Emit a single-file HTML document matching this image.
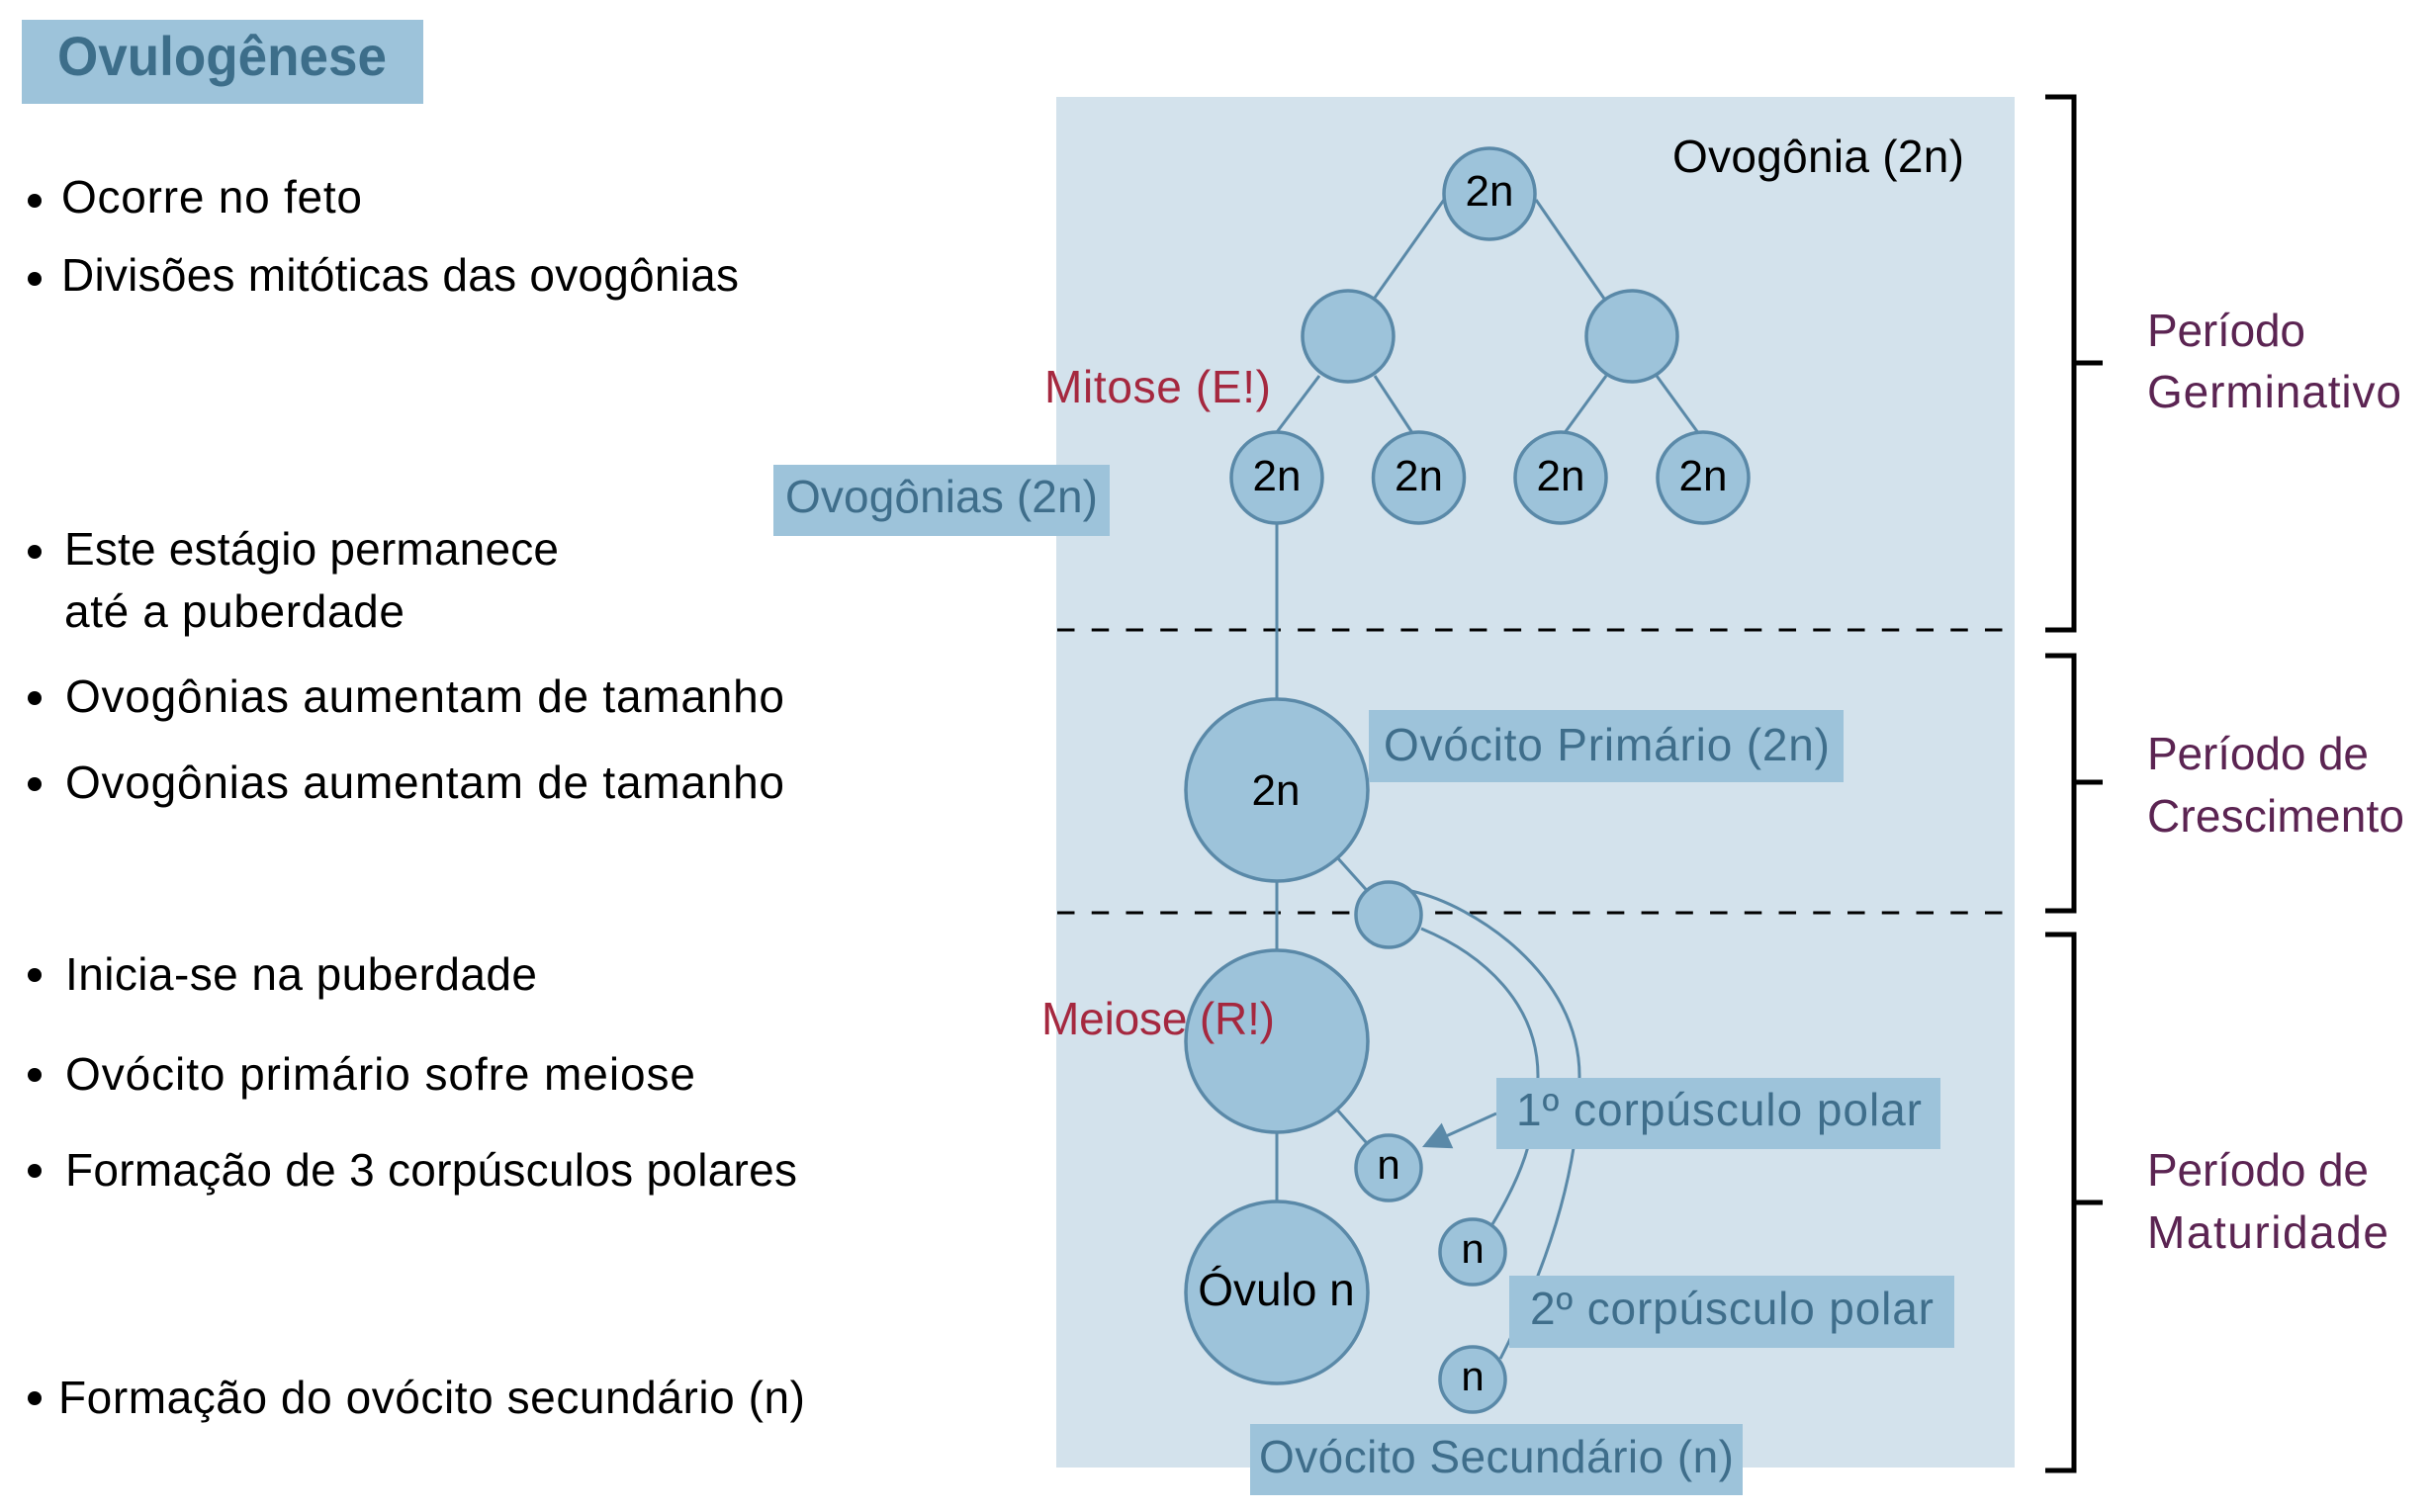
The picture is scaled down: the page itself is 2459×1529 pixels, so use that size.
<!DOCTYPE html>
<html><head><meta charset="utf-8"><style>
html,body{margin:0;padding:0;background:#fff;}
body{width:2459px;height:1529px;overflow:hidden;}
svg{display:block;}
text{font-family:"Liberation Sans",sans-serif;}
</style></head><body>
<svg width="2459" height="1529" viewBox="0 0 2459 1529" xmlns="http://www.w3.org/2000/svg">
<rect x="0" y="0" width="2459" height="1529" fill="#ffffff"/>
<!-- Title -->
<rect x="22" y="20" width="406" height="85" fill="#9dc3da"/>
<text x="58" y="76" font-size="56" font-weight="bold" fill="#3d6e8a" textLength="333" lengthAdjust="spacingAndGlyphs">Ovulogênese</text>

<!-- Left bullets -->
<g fill="#000" font-size="46">
<circle cx="35" cy="203" r="7"/><text x="62" y="215" textLength="304">Ocorre no feto</text>
<circle cx="35" cy="282" r="7"/><text x="62" y="294" textLength="685">Divisões mitóticas das ovogônias</text>
<circle cx="35" cy="558" r="7"/><text x="65" y="571" textLength="500">Este estágio permanece</text>
<text x="65" y="634" textLength="344">até a puberdade</text>
<circle cx="35" cy="706" r="7"/><text x="66" y="720" textLength="727">Ovogônias aumentam de tamanho</text>
<circle cx="35" cy="793" r="7"/><text x="66" y="807" textLength="727">Ovogônias aumentam de tamanho</text>
<circle cx="35" cy="986" r="7"/><text x="66" y="1001" textLength="477">Inicia-se na puberdade</text>
<circle cx="35" cy="1087" r="7"/><text x="66" y="1102" textLength="637">Ovócito primário sofre meiose</text>
<circle cx="35" cy="1184" r="7"/><text x="66" y="1199" textLength="740">Formação de 3 corpúsculos polares</text>
<circle cx="35" cy="1414" r="7"/><text x="59" y="1429" textLength="755">Formação do ovócito secundário (n)</text>
</g>

<!-- Panel -->
<rect x="1068" y="98" width="969" height="1386" fill="#d3e2ec"/>

<!-- Dashed lines -->
<g stroke="#000" stroke-width="3" stroke-dasharray="17.5 17.24" fill="none">
<line x1="1069" y1="637" x2="2026" y2="637"/>
<line x1="1069" y1="923" x2="2026" y2="923"/>
</g>

<!-- Connectors -->
<g stroke="#5a89a8" stroke-width="3" fill="none">
<line x1="1460" y1="202" x2="1390" y2="301"/>
<line x1="1553" y1="202" x2="1622" y2="302"/>
<line x1="1334" y1="380" x2="1291" y2="437"/>
<line x1="1390" y1="380" x2="1427.5" y2="437"/>
<line x1="1624" y1="380" x2="1582.5" y2="437"/>
<line x1="1675" y1="380" x2="1716.5" y2="437"/>
<line x1="1291" y1="483" x2="1291" y2="1307"/>
<line x1="1291" y1="799" x2="1404" y2="925"/>
<line x1="1291" y1="1053" x2="1404" y2="1181"/>
<path d="M1437,939 C1500,965 1555,1015 1555,1088 C1555,1150 1535,1195 1509,1238"/>
<path d="M1427,901 C1490,915 1597,985 1597,1088 C1597,1190 1560,1290 1517,1374"/>
<line x1="1513" y1="1126" x2="1462" y2="1149"/>
</g>
<polygon points="1438,1160 1469.3,1161.2 1457.7,1135.6" fill="#5a89a8"/>

<!-- Circles -->
<g fill="#9dc3da" stroke="#5a89a8" stroke-width="3.5">
<circle cx="1506" cy="196" r="46"/>
<circle cx="1363" cy="340" r="46"/>
<circle cx="1650" cy="340" r="46"/>
<circle cx="1291" cy="483" r="46"/>
<circle cx="1434.5" cy="483" r="46"/>
<circle cx="1578" cy="483" r="46"/>
<circle cx="1722" cy="483" r="46"/>
<circle cx="1291" cy="799" r="92"/>
<circle cx="1291" cy="1053" r="92"/>
<circle cx="1291" cy="1307" r="92"/>
<circle cx="1404" cy="925" r="33"/>
<circle cx="1404" cy="1181" r="33"/>
<circle cx="1489" cy="1266" r="33"/>
<circle cx="1489" cy="1395" r="33"/>
</g>

<!-- Circle labels -->
<g fill="#000" text-anchor="middle">
<text x="1506" y="208" font-size="44">2n</text>
<text x="1291" y="496" font-size="44">2n</text>
<text x="1434.5" y="496" font-size="44">2n</text>
<text x="1578" y="496" font-size="44">2n</text>
<text x="1722" y="496" font-size="44">2n</text>
<text x="1290" y="814" font-size="44">2n</text>
<text x="1290.5" y="1320" font-size="46">Óvulo n</text>
<text x="1404" y="1192" font-size="42">n</text>
<text x="1489" y="1277" font-size="42">n</text>
<text x="1489" y="1406" font-size="42">n</text>
</g>

<!-- Labels in diagram -->
<text x="1691" y="174" font-size="46" fill="#000" textLength="295">Ovogônia (2n)</text>
<text x="1056" y="407" font-size="46" fill="#a5283f" textLength="229">Mitose (E!)</text>
<text x="1053" y="1046" font-size="46" fill="#a5283f" textLength="236">Meiose (R!)</text>

<!-- Blue label boxes -->
<g fill="#9dc3da">
<rect x="782" y="470" width="340" height="72"/>
<rect x="1384" y="718" width="480" height="73"/>
<rect x="1513" y="1090" width="449" height="72"/>
<rect x="1526" y="1290" width="450" height="73"/>
<rect x="1264" y="1440" width="498" height="72"/>
</g>
<g fill="#3f6e8b" font-size="46">
<text x="794" y="518" textLength="316">Ovogônias (2n)</text>
<text x="1399" y="769" textLength="451">Ovócito Primário (2n)</text>
<text x="1533" y="1138" textLength="410">1º corpúsculo polar</text>
<text x="1547" y="1339" textLength="408">2º corpúsculo polar</text>
<text x="1273" y="1489" textLength="480">Ovócito Secundário (n)</text>
</g>

<!-- Brackets -->
<g stroke="#000" stroke-width="5" fill="none">
<path d="M2068,98 H2097 V637 H2068"/>
<line x1="2097" y1="367" x2="2126" y2="367"/>
<path d="M2068,663 H2097 V921 H2068"/>
<line x1="2097" y1="791" x2="2126" y2="791"/>
<path d="M2068,945 H2097 V1487 H2068"/>
<line x1="2097" y1="1216" x2="2126" y2="1216"/>
</g>

<!-- Right labels -->
<g fill="#5b2452" font-size="46">
<text x="2171" y="350" textLength="160">Período</text>
<text x="2171" y="412" textLength="257">Germinativo</text>
<text x="2171" y="778" textLength="224">Período de</text>
<text x="2171" y="841" textLength="260">Crescimento</text>
<text x="2171" y="1199" textLength="224">Período de</text>
<text x="2171" y="1262" textLength="244">Maturidade</text>
</g>
</svg>
</body></html>
